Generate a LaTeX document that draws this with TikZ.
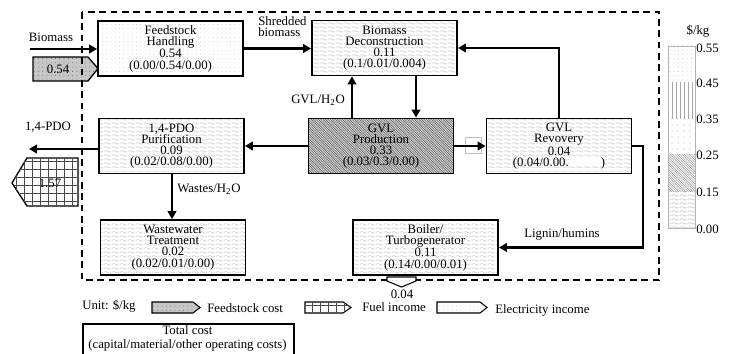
\documentclass[tikz,border=0pt]{standalone}
\usepackage{fontspec}
\setmainfont{Liberation Serif}
\usetikzlibrary{arrows.meta,patterns,calc}
\pgfdeclarepatternformonly{wavy}{\pgfqpoint{0pt}{0pt}}{\pgfqpoint{6pt}{3pt}}{\pgfqpoint{6pt}{3pt}}{%
 \pgfsetlinewidth{0.35pt}%
 \pgfpathmoveto{\pgfqpoint{0pt}{1.5pt}}%
 \pgfpathcurveto{\pgfqpoint{1pt}{2.4pt}}{\pgfqpoint{2pt}{2.4pt}}{\pgfqpoint{3pt}{1.5pt}}%
 \pgfpathcurveto{\pgfqpoint{4pt}{0.6pt}}{\pgfqpoint{5pt}{0.6pt}}{\pgfqpoint{6pt}{1.5pt}}%
 \pgfusepath{stroke}}
\pgfdeclarepatternformonly{sdots}{\pgfqpoint{-0.5pt}{-0.5pt}}{\pgfqpoint{0.5pt}{0.5pt}}{\pgfqpoint{3.2pt}{3.2pt}}{%
 \pgfpathcircle{\pgfpointorigin}{0.3pt}\pgfusepath{fill}}
\pgfdeclarepatternformonly{bdots}{\pgfqpoint{-1pt}{-1pt}}{\pgfqpoint{1pt}{1pt}}{\pgfqpoint{4.5pt}{4.5pt}}{%
 \pgfpathcircle{\pgfpointorigin}{0.5pt}\pgfusepath{fill}}
\pgfdeclarepatternformonly{bgrid}{\pgfqpoint{-1pt}{-1pt}}{\pgfqpoint{6pt}{6pt}}{\pgfqpoint{6pt}{6pt}}{%
 \pgfsetlinewidth{0.5pt}%
 \pgfpathmoveto{\pgfqpoint{0pt}{0pt}}\pgfpathlineto{\pgfqpoint{0pt}{6.1pt}}%
 \pgfpathmoveto{\pgfqpoint{0pt}{0pt}}\pgfpathlineto{\pgfqpoint{6.1pt}{0pt}}%
 \pgfusepath{stroke}}
\pgfdeclarepatternformonly{ddiag}{\pgfqpoint{-1pt}{-1pt}}{\pgfqpoint{2.8pt}{2.8pt}}{\pgfqpoint{1.8pt}{1.8pt}}{%
 \pgfsetlinewidth{0.35pt}%
 \pgfpathmoveto{\pgfqpoint{0pt}{1.8pt}}\pgfpathlineto{\pgfqpoint{1.9pt}{-0.1pt}}%
 \pgfusepath{stroke}}
\tikzset{
 box/.style={draw, line width=1.4pt, minimum width=145*0.75pt, minimum height=55*0.75pt,
   align=center, inner sep=0pt, font=\fontsize{9.6}{8.4}\selectfont},
 wavyfill/.style={pattern=wavy, pattern color=gray!50},
 dotfill/.style={pattern=sdots, pattern color=gray!60},
 conn/.style={line width=1.6pt, -{Triangle[length=6pt,width=6.5pt]}},
 lbl/.style={font=\fontsize{9.6}{8.2}\selectfont, inner sep=0pt},
}
\begin{document}
\begin{tikzpicture}[x=0.75pt,y=-0.75pt]
\useasboundingbox (0,0) rectangle (730,353);
\clip (0,0) rectangle (730,353);

% feedstock cost and fuel income markers
\draw[line width=1pt, preaction={fill=gray!45}, pattern=sdots, pattern color=black!70]
  (33,57) -- (88,57) -- (98,68.5) -- (88,81) -- (33,81) -- cycle;
\node[lbl] (fc) at (58,69) {0.54};
\draw[line width=1pt, fill=white, postaction={pattern=bgrid, pattern color=black!70}]
  (12,183) -- (27,158) -- (78,158) -- (78,206) -- (27,206) -- cycle;
\node[lbl] (fi) at (50,183) {1.57};

% system boundary
\draw[line width=1.2pt, dash pattern=on 5pt off 3.5pt] (82,12) rectangle (659,280);

% process boxes
\node[box, fill=white, dotfill] (fh) at (170.5,48.5) {Feedstock\\Handling\\0.54\\(0.00/0.54/0.00)};
\node[box, fill=white, wavyfill] (bd) at (384.5,48) {Biomass\\Deconstruction\\0.11\\(0.1/0.01/0.004)};
\node[box, preaction={fill=gray!32}, pattern=ddiag, pattern color=gray!70!black] (gp) at (381,146) {GVL\\Production\\0.33\\(0.03/0.3/0.00)};
\node[box, fill=white, wavyfill] (gr) at (559,146) {GVL\\Revovery\\0.04\\(0.04/0.00.{\setlength{\fboxsep}{0pt}\colorbox{white}{\rule{0pt}{7pt}\hspace{24pt}}})};
\node[box, fill=white, wavyfill] (pp) at (171.5,146) {1,4-PDO\\Purification\\0.09\\(0.02/0.08/0.00)};
\node[box, fill=white, wavyfill] (ww) at (173,247.5) {Wastewater\\Treatment\\0.02\\(0.02/0.01/0.00)};
\node[box, fill=white, wavyfill] (bt) at (425.5,247.5) {Boiler/\\Turbogenerator\\0.11\\(0.14/0.00/0.01)};

% electricity income marker under boiler
\draw[line width=0.8pt, fill=white, postaction={pattern=sdots, pattern color=gray!60}]
  (387,277) -- (416,277) -- (416,281) -- (401.5,287) -- (387,281) -- cycle;
\node[lbl] (ei) at (402,294) {0.04};

% helper coordinates
\coordinate (bin) at (30,49);
\coordinate (c1) at (416,0);
\coordinate (c2) at (352,0);
\coordinate (c3) at (559,0);
\coordinate (c4) at (172,0);
\coordinate (c5) at (643,0);
\coordinate (pdoend) at (29,0);

% connectors
\draw[conn] (bin) -- (bin -| fh.west);
\node[lbl] (lbio) at (51,37) {Biomass};
\draw[conn] (fh.east) -- (fh.east -| bd.west);
\node[lbl, align=left, anchor=west] (lshr) at (258,27) {Shredded\\biomass};
\draw[conn] (bd.south -| c1) -- (gp.north -| c1);
\draw[conn] (gp.north -| c2) -- (bd.south -| c2);
\node[lbl] (lgvl) at (318,100) {GVL/H\textsubscript{2}O};
\draw[conn] (gr.north -| c3) |- (bd.east);
\draw[gray!50, line width=0.6pt] (465,137) rectangle (481,153);
\draw[conn] (gp.east) -- (gr.west);
\draw[conn] (gp.west) -- (pp.east);
\draw[conn] (pp.west |- 0,149) -- (pdoend |- 0,149);
\node[lbl] (lpdo) at (48,127) {1,4-PDO};
\draw[conn] (pp.south -| c4) -- (ww.north -| c4);
\node[lbl] (lwas) at (209,189) {Wastes/H\textsubscript{2}O};
\draw[conn] (gr.east) -- (gr.east -| c5) -- (c5 |- bt.east) -- (bt.east);
\node[lbl] (llig) at (562,234) {Lignin/humins};

% scale legend
\node[lbl] (ukg) at (698,31) {\$/kg};
\path[pattern=sdots, pattern color=gray!75] (668,46) rectangle (695,82);
\path[pattern=vertical lines, pattern color=gray!70] (668,82) rectangle (695,118);
\path[pattern=bdots, pattern color=gray!60] (668,118) rectangle (695,154);
\path[pattern=ddiag, pattern color=gray!85] (668,154) rectangle (695,191);
\path[pattern=wavy, pattern color=gray!65] (668,191) rectangle (695,228);
\draw[gray!60, line width=0.6pt] (668,46) rectangle (695,228);
\node[lbl, anchor=west] (s1) at (696,48) {0.55};
\node[lbl, anchor=west] (s2) at (696,83) {0.45};
\node[lbl, anchor=west] (s3) at (696,119) {0.35};
\node[lbl, anchor=west] (s4) at (696,155) {0.25};
\node[lbl, anchor=west] (s5) at (696,192) {0.15};
\node[lbl, anchor=west] (s6) at (696,229) {0.00};

% bottom legend
\node[lbl, anchor=west] (unit) at (82,306) {Unit: \$/kg};
\draw[line width=0.8pt, preaction={fill=gray!45}, pattern=sdots, pattern color=black!70]
  (152,302) -- (193,302) -- (200,307.5) -- (193,313) -- (152,313) -- cycle;
\node[lbl, anchor=west] (lfc) at (207,308) {Feedstock cost};
\draw[line width=0.8pt, fill=white, postaction={pattern=bgrid, pattern color=black!70}]
  (305,302) -- (343,302) -- (351,307.5) -- (343,313) -- (305,313) -- cycle;
\node[lbl, anchor=west] (lfi) at (362,307) {Fuel income};
\draw[line width=0.8pt, fill=white, postaction={pattern=sdots, pattern color=gray!60}]
  (437,302) -- (480,302) -- (487,307.5) -- (480,313) -- (437,313) -- cycle;
\node[lbl, anchor=west] (lei) at (495,310) {Electricity income};
\node[draw, line width=1.4pt, anchor=north west, minimum width=211*0.75pt, minimum height=45*0.75pt,
  inner sep=0pt] (tcbox) at (82,323) {};
\node[inner sep=0pt, align=center, font=\fontsize{9.6}{10.5}\selectfont] (tc) at (187.5,338.5)
  {Total cost\\(capital/material/other operating costs)};
\end{tikzpicture}
\end{document}
